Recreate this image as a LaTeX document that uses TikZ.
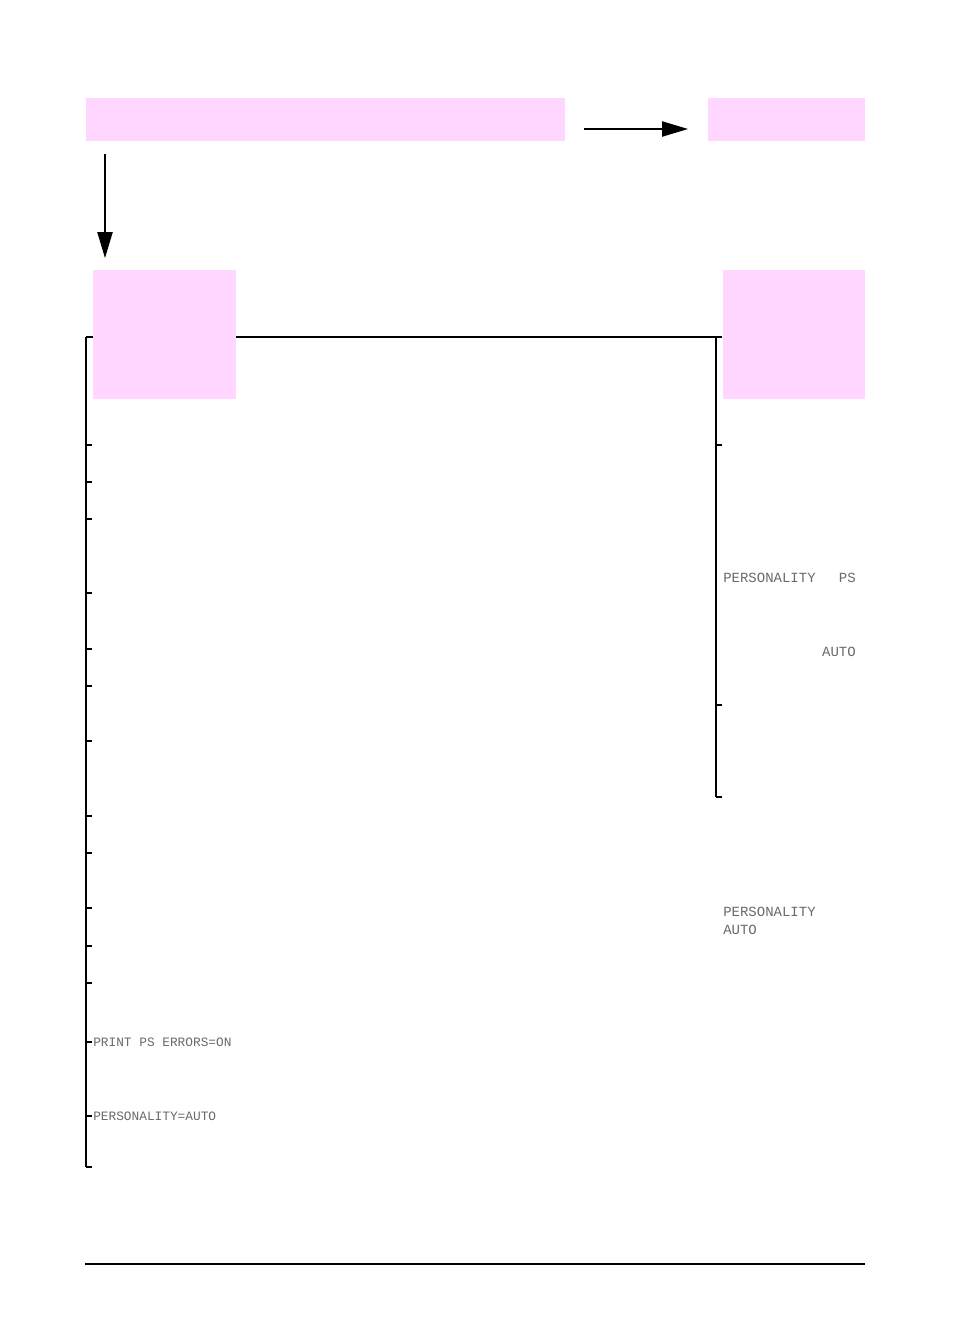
\documentclass[tikz,border=0pt]{standalone}
\usepackage{fontspec}
\newfontfamily\lcdfont{Liberation Mono}
\usetikzlibrary{arrows.meta}
\definecolor{panelpink}{RGB}{255,214,255}
\definecolor{lcdgray}{RGB}{105,105,105}
\tikzset{
  panel/.style={fill=panelpink,inner sep=0pt,anchor=north west},
  lcd/.style={font=\lcdfont\fontsize{10.5pt}{12pt}\selectfont,text=lcdgray,inner sep=0pt},
  lcdsmall/.style={font=\lcdfont\fontsize{9.6pt}{11pt}\selectfont,text=lcdgray,inner sep=0pt,anchor=west},
  flow/.style={line width=0.9pt,-{Triangle[length=19.5pt,width=11.5pt]}}
}
\begin{document}
\begin{tikzpicture}[x=0.75pt,y=-0.75pt]
            \useasboundingbox (0,0) rectangle (954,1321);

            % Top line
            \coordinate (topl) at (86,337);
            \coordinate (topr) at (722,337);
            \draw[line width=0.9pt] (topl) -- (topr);

            % Left bracket
            \coordinate (lbot) at (86,1167);
            \draw[line width=1.6pt] (topl) -- (lbot);
            \foreach \y in {445,482,519,593,649,686,816,853,908,946,983,1042,1116,1167}{
            \draw[line width=0.9pt] (86,\y) -- (92,\y);
            }
            \draw[line width=1.6pt] (86,741) -- (92,741);

            % Right bracket
            \coordinate (rtop) at (716,337);
            \coordinate (rbot) at (716,797);
            \draw[line width=0.9pt] (rtop) -- (rbot);
            \foreach \y in {445,705,797}{
            \draw[line width=0.9pt] (716,\y) -- (722,\y);
            }

            % Panels
            \node[panel,minimum width=359.25pt,minimum height=32.25pt] (menu) at (86,98) {};
            \node[panel,minimum width=117.75pt,minimum height=32.25pt] (item) at (708,98) {};
            \node[panel,minimum width=107.25pt,minimum height=96.75pt] (left) at (93,270) {};
            \node[panel,minimum width=106.5pt,minimum height=96.75pt] (right) at (723,270) {};

            % Arrows
            \coordinate (ha) at (584,129);
            \coordinate (hb) at (688,129);
            \coordinate (va) at (105,154);
            \coordinate (vb) at (105,258);
            \draw[flow] (ha) -- (hb);
            \draw[flow] (va) -- (vb);

            % Display texts
            \node[lcd,anchor=west] (pers) at (723,578) {PERSONALITY};
            \node[lcd,anchor=east] (ps) at (856,578) {PS};
            \node[lcd,anchor=east] (auto) at (856,652) {AUTO};
            \node[lcd,anchor=west] (pers2) at (723,912) {PERSONALITY};
            \node[lcd,anchor=west] (auto2) at (723,930) {AUTO};

            \node[lcdsmall] (pserr) at (93,1042) {PRINT PS ERRORS=ON};
            \node[lcdsmall] (persauto) at (93,1116) {PERSONALITY=AUTO};

            % Bottom rule
            \draw[line width=1.5pt] (85,1264) -- (865,1264);
\end{tikzpicture}
\end{document}
